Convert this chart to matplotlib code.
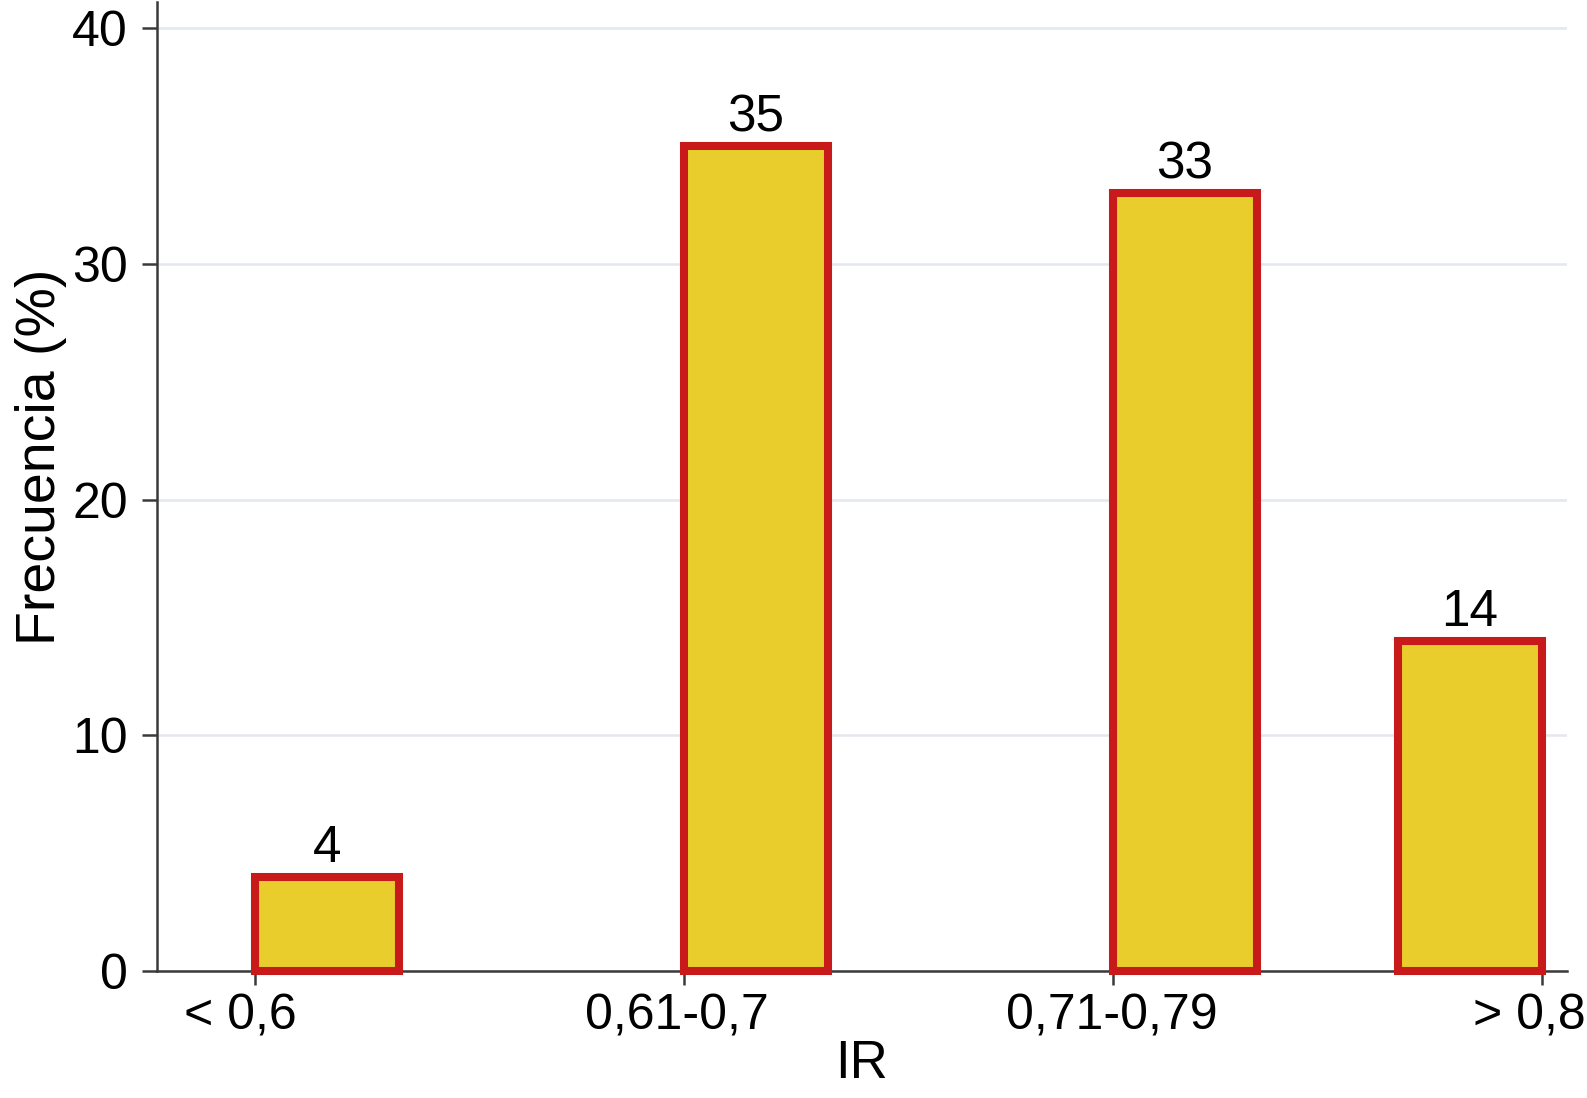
import matplotlib.pyplot as plt
from matplotlib.transforms import ScaledTranslation

categories = ['< 0,6', '0,61-0,7', '0,71-0,79', '> 0,8']
tick_pos = [0, 1, 2, 3]
frecuencia = [4, 35, 33, 14]
yticks = [0, 10, 20, 30, 40]

plt.rcParams['font.family'] = ['Liberation Sans', 'DejaVu Sans']

fig = plt.figure(figsize=(15.87, 10.98), dpi=100)
ax = fig.add_axes([0.0989, 0.1157, 0.8885, 0.8823])

w = 0.336
# los tres primeros alineados a la izquierda del tick, el último a la derecha
lefts = [p if i < 3 else p - w for i, p in enumerate(tick_pos)]
bars = ax.bar(lefts, frecuencia, width=w, align='edge',
              color='#E8CD2D', edgecolor='#C8191B', linewidth=5.8, zorder=3,
              clip_on=False)

for b, v in zip(bars, frecuencia):
    ax.text(b.get_x() + b.get_width() / 2, v + 0.62, str(v),
            ha='center', va='baseline', fontsize=37, color='black')

ax.set_xlim(-0.228, 3.058)
ax.set_ylim(0, 41.1)
ax.set_xticks(tick_pos)
ax.set_xticklabels(categories)
ax.set_yticks(yticks)

ax.grid(axis='y', color='#E3E8EE', linewidth=1.8, zorder=0)
ax.set_axisbelow(True)

for s in ['top', 'right']:
    ax.spines[s].set_visible(False)
for s in ['left', 'bottom']:
    ax.spines[s].set_color('#3a3a3a')
    ax.spines[s].set_linewidth(1.8)

ax.tick_params(axis='both', labelsize=36, colors='#3a3a3a', labelcolor='black',
               width=1.8)
ax.tick_params(axis='y', length=11, pad=10)
ax.tick_params(axis='x', length=10, pad=6)

# pequeño desplazamiento horizontal de las etiquetas, como en el original
shifts = [-14, -7, -1, -13]
for lab, dx in zip(ax.get_xticklabels(), shifts):
    lab.set_transform(lab.get_transform() + ScaledTranslation(dx / 100, 0, fig.dpi_scale_trans))

ax.set_xlabel('IR', fontsize=38, labelpad=0)
ax.set_ylabel('Frecuencia (%)', fontsize=40)
ax.yaxis.set_label_coords(-0.064, 0.531)

fig.savefig('out.png', dpi=100)
